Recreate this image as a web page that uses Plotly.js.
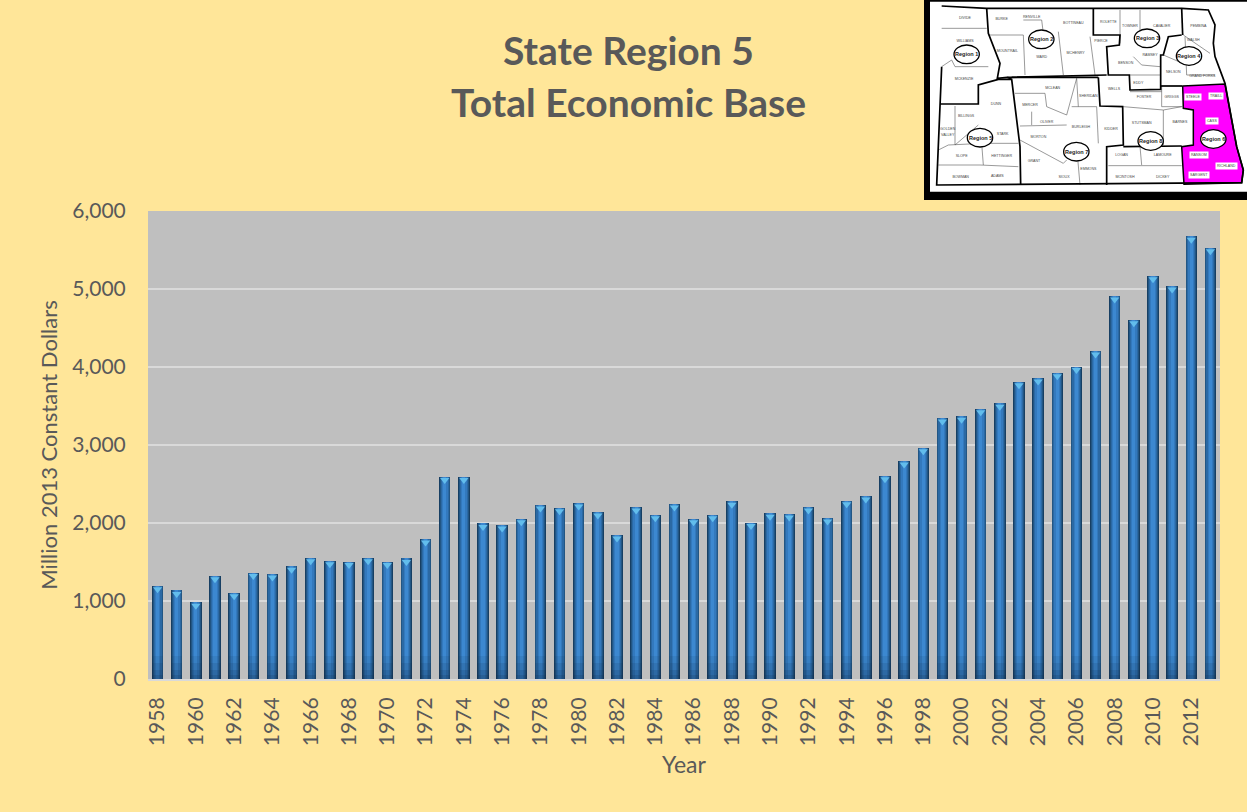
<!DOCTYPE html>
<html><head><meta charset="utf-8">
<script src="https://cdn.plot.ly/plotly-3.0.1.min.js"></script>
<style>html,body{margin:0;padding:0;background:#FFE699}#c{width:1247px;height:812px}</style>
</head><body><div id="c"></div>
<script>
const years = [1958,1959,1960,1961,1962,1963,1964,1965,1966,1967,1968,1969,1970,1971,1972,1973,1974,1975,1976,1977,1978,1979,1980,1981,1982,1983,1984,1985,1986,1987,1988,1989,1990,1991,1992,1993,1994,1995,1996,1997,1998,1999,2000,2001,2002,2003,2004,2005,2006,2007,2008,2009,2010,2011,2012,2013];
const values = [1195,1135,985,1325,1105,1365,1345,1445,1555,1515,1505,1555,1505,1545,1795,2595,2595,1995,1975,2055,2230,2195,2255,2140,1845,2205,2105,2245,2055,2105,2280,2005,2125,2115,2205,2065,2285,2345,2605,2795,2965,3345,3370,3465,3535,3810,3860,3925,4005,4205,4910,4605,5170,5040,5675,5530];

// Inset map, traced in a 981x615 picture space
const pinkX = [788,915,935,950,970,965,792,785,820,820,790,788];
const pinkY = [258,252,360,440,510,548,553,440,435,330,325,258];
const regionX = [65,200,520,785,865,885,880,885,915,935,950,970,965,50,55,60,65,null,
  200,205,240,232,262,560,null, 520,520,600,598,560,565,628,630,722,722,730,745,785,null,
  785,788,null, 262,275,300,302,null, 60,175,175,235,275,null,
  535,540,608,610,560,560,null, 535,535,null, 722,788,null, 275,535,null, 610,785,null];
const regionY = [18,25,25,25,30,75,130,170,250,360,440,510,548,555,440,310,200,null,
  25,100,190,235,232,225,null, 25,105,105,135,140,225,225,270,268,165,165,110,105,null,
  25,105,null, 232,238,440,555,null, 312,312,255,238,238,null,
  232,318,320,435,440,555,null, 232,232,null, 258,258,null, 232,232,null, 440,438];
const countyX = [65,200,null,65,95,105,205,null,205,310,315,null,310,365,370,null,415,430,null,510,525,null,600,600,null,660,660,null,640,665,720,null,
  630,720,null,795,800,885,null,730,800,null,790,870,null,725,725,null,630,725,null,725,790,null,
  285,375,380,440,470,475,null,300,440,null,335,335,null,455,530,null,530,535,null,
  105,105,175,null,55,85,190,295,null,185,190,null,55,180,295,null,610,730,785,null,730,730,null,660,665,null,565,785,null,440,430,300,null,470,480,null];
const countyY = [85,85,null,200,180,200,200,null,105,105,225,null,60,60,100,null,95,225,null,110,225,null,30,130,null,30,95,null,170,195,200,null,
  225,225,null,110,225,225,null,165,195,null,105,160,null,258,320,null,275,275,null,320,320,null,
  280,280,320,345,235,320,null,378,375,null,335,375,null,320,320,null,320,430,null,
  318,435,375,null,450,435,430,430,null,430,495,null,495,495,500,null,320,330,320,null,330,435,null,440,495,null,497,497,null,480,490,420,null,440,555,null];
const countyNames = ["DIVIDE","BURKE","RENVILLE","BOTTINEAU","ROLETTE","TOWNER","CAVALIER","PEMBINA","WILLIAMS","MOUNTRAIL","WARD","MCHENRY","PIERCE","BENSON","RAMSEY","WALSH","NELSON","GRAND FORKS","MCKENZIE","EDDY","DUNN","MERCER","MCLEAN","SHERIDAN","WELLS","FOSTER","GRIGGS","BILLINGS","GOLDEN","VALLEY","STARK","OLIVER","BURLEIGH","KIDDER","STUTSMAN","BARNES","SLOPE","HETTINGER","MORTON","GRANT","EMMONS","LOGAN","LAMOURE","MCINTOSH","DICKEY","BOWMAN","ADAMS","SIOUX"];
const countyLx = [135,245,335,460,565,630,725,835,135,262,365,467,543,617,690,820,760,847,132,655,228,330,398,505,582,672,755,138,83,83,248,380,483,573,665,780,125,245,355,342,505,605,728,615,728,122,232,432];
const countyLy = [55,58,50,68,65,78,78,78,122,152,172,158,124,190,165,120,215,228,237,248,312,315,265,287,268,292,290,348,388,405,402,365,382,388,368,367,467,468,410,482,507,465,465,530,530,530,527,530];
const pinkNames = ["STEELE","TRAILL","CASS","RANSOM","RICHLAND","SARGENT"];
const pinkLx = [818,887,875,838,920,838];
const pinkLy = [290,288,363,465,498,525];
const regionNames = ["Region 1","Region 2","Region 3","Region 4","Region 5","Region 6","Region 7","Region 8"];
const regionLx = [140,364,681,807,180,880,469,692];
const regionLy = [163,118,115,168,413,417,455,423];
const yTicks = [0,1000,2000,3000,4000,5000,6000];
const W = 1247, H = 812;

function bar(w, color, y) {
  return {type:'bar', x:years, y:y||values, width:w, marker:{color:color, line:{width:0}}, hoverinfo:'skip', showlegend:false};
}
const shade1 = years.map(() => 300), shade2 = years.map(() => 200), shade3 = years.map(() => 110), shade4 = years.map(() => 50);
const traces = [
  bar(0.60,'#173f63'), bar(0.52,'#225684'), bar(0.42,'#2b69a4'), bar(0.30,'#3379bd'), bar(0.16,'#3c88d0'),
  bar(0.60,'rgba(20,45,75,0.10)',shade1), bar(0.60,'rgba(20,45,75,0.12)',shade2),
  bar(0.60,'rgba(20,45,75,0.14)',shade3), bar(0.60,'rgba(20,45,75,0.16)',shade4),
  {type:'scatter', mode:'markers', x:years, y:values.map(v=>v-45), hoverinfo:'skip', showlegend:false,
   marker:{symbol:'triangle-down', size:8, color:'#62bdec', line:{width:0}}},
  {type:'scatter', mode:'lines', x:pinkX, y:pinkY, xaxis:'x2', yaxis:'y2', fill:'toself', fillcolor:'#ff00ff',
   line:{color:'#000',width:1.5}, hoverinfo:'skip', showlegend:false},
  {type:'scatter', mode:'lines', x:countyX, y:countyY, xaxis:'x2', yaxis:'y2',
   line:{color:'#555',width:0.6}, hoverinfo:'skip', showlegend:false},
  {type:'scatter', mode:'lines', x:regionX, y:regionY, xaxis:'x2', yaxis:'y2',
   line:{color:'#000',width:1.7}, hoverinfo:'skip', showlegend:false},
  {type:'scatter', mode:'text', x:countyLx, y:countyLy, text:countyNames, xaxis:'x2', yaxis:'y2',
   textfont:{family:'Liberation Sans',size:3.6,color:'#444'}, hoverinfo:'skip', showlegend:false}
];

const mapAxisNote = {xref:'x2', yref:'y2'};
const layout = {
  width:W, height:H, margin:{l:0,r:0,t:0,b:0}, paper_bgcolor:'#FFE699', plot_bgcolor:'#BFBFBF',
  barmode:'overlay', bargap:0, showlegend:false,
  font:{family:'Lato, Carlito, sans-serif', color:'#595959'},
  xaxis:{domain:[148/W,1220/W], range:[1957.5,2013.5], tick0:1958, dtick:2, tickangle:-90, ticks:'outside', ticklen:8,
    tickcolor:'rgba(0,0,0,0)', tickfont:{size:21,color:'#595959'}, showgrid:false, zeroline:false, showline:true, linecolor:'#D9D9D9', linewidth:2,
    title:{text:'Year', font:{size:23,color:'#595959'}, standoff:12}},
  yaxis:{domain:[1-679/H,1-211/H], range:[0,6000], tickvals:yTicks, tickformat:',', ticks:'outside', ticklen:17, tickcolor:'rgba(0,0,0,0)',
    tickfont:{size:21,color:'#595959'}, gridcolor:'#D9D9D9', gridwidth:2, zeroline:false,
    title:{text:'Million 2013 Constant Dollars', font:{size:22,color:'#595959'}, standoff:8}},
  xaxis2:{domain:[920/W,1], range:[0,981], visible:false, fixedrange:true, anchor:'y2'},
  yaxis2:{domain:[1-205/H,1], range:[615,0], visible:false, fixedrange:true, anchor:'x2'},
  shapes:[
    {type:'rect', xref:'x2', yref:'y2', x0:0, x1:981, y0:0, y1:615, fillcolor:'#FFE699', line:{width:0}, layer:'below'},
    {type:'rect', xref:'x2', yref:'y2', x0:12, x1:981, y0:0, y1:600, fillcolor:'#000', line:{width:0}, layer:'below'},
    {type:'rect', xref:'x2', yref:'y2', x0:30, x1:981, y0:5, y1:575, fillcolor:'#fff', line:{width:0}, layer:'below'}
  ].concat(regionLx.map((x,i)=>({type:'circle', xref:'x2', yref:'y2', x0:x-38, x1:x+38, y0:regionLy[i]-28, y1:regionLy[i]+28,
     fillcolor:'#fff', line:{color:'#000',width:1.3}, layer:'above'}))),
  annotations:[
    {xref:'paper', yref:'paper', x:628/W, y:1-50/H, xanchor:'center', yanchor:'middle', text:'<b>State Region 5</b>', showarrow:false, font:{size:39,color:'#595959'}},
    {xref:'paper', yref:'paper', x:628/W, y:1-102/H, xanchor:'center', yanchor:'middle', text:'<b>Total Economic Base</b>', showarrow:false, font:{size:39,color:'#595959'}}
  ].concat(regionNames.map((t,i)=>({...mapAxisNote, x:regionLx[i], y:regionLy[i], text:'<b>'+t+'</b>', showarrow:false,
     font:{family:'Liberation Sans',size:5.5,color:'#222'}})))
   .concat(pinkNames.map((t,i)=>({...mapAxisNote, x:pinkLx[i], y:pinkLy[i], text:t, showarrow:false, bgcolor:'#fff', borderpad:1,
     font:{family:'Liberation Sans',size:3.6,color:'#444'}})))
};
Plotly.newPlot('c', traces, layout, {displayModeBar:false, staticPlot:true});
</script></body></html>
